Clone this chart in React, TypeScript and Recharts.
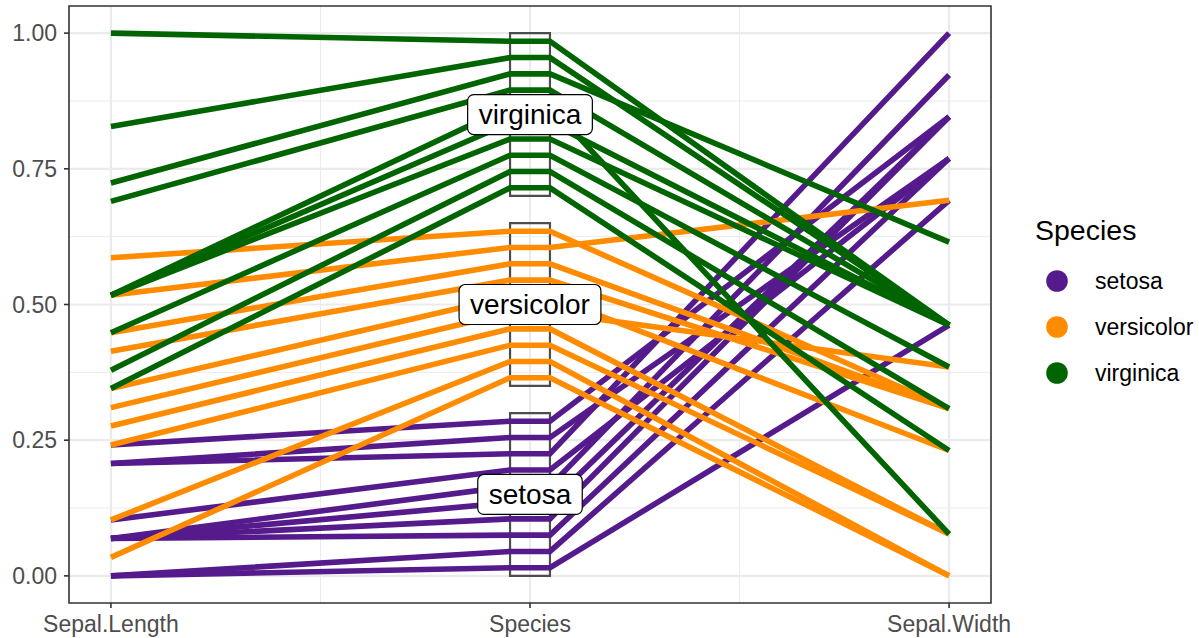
import React from "react";
import {
  LineChart,
  Line,
  XAxis,
  YAxis,
  CartesianGrid,
  ReferenceArea,
  ReferenceDot,
  Legend,
} from "recharts";

// ---------- data ----------
const axisNames = ["Sepal.Length", "Species", "Sepal.Width"];
const speciesNames = ["setosa", "versicolor", "virginica"];
const speciesColors = ["#551A8B", "#FF8C00", "#006400"];

// each species: lines listed bottom-to-top inside its Species box
const setosaSepalLength = [0, 0, 0.069, 0.069, 0.069, 0.069, 0.103, 0.207, 0.207, 0.241];
const setosaSpecies = [0.015, 0.045, 0.075, 0.105, 0.135, 0.165, 0.195, 0.225, 0.255, 0.285];
const setosaSepalWidth = [0.462, 0.692, 0.769, 0.846, 0.846, 0.923, 0.769, 1.0, 0.769, 0.846];

const versicolorSepalLength = [0.034, 0.103, 0.241, 0.276, 0.31, 0.345, 0.414, 0.448, 0.517, 0.586];
const versicolorSpecies = [0.365, 0.395, 0.425, 0.455, 0.485, 0.515, 0.545, 0.575, 0.605, 0.635];
const versicolorSepalWidth = [0, 0, 0.077, 0.077, 0.385, 0.231, 0.308, 0.308, 0.692, 0.308];

const virginicaSepalLength = [0.345, 0.379, 0.448, 0.517, 0.517, 0.517, 0.69, 0.724, 0.828, 1.0];
const virginicaSpecies = [0.715, 0.745, 0.775, 0.805, 0.835, 0.865, 0.895, 0.925, 0.955, 0.985];
const virginicaSepalWidth = [0.231, 0.308, 0.385, 0.462, 0.462, 0.077, 0.462, 0.615, 0.462, 0.462];

const speciesBoxes: [number, number][] = [
  [0, 0.3],
  [0.35, 0.65],
  [0.7, 1.0],
];
const speciesLabelY = [0.15, 0.5, 0.85];

const yTicks = [0, 0.25, 0.5, 0.75, 1];
const yMinor = [0.125, 0.375, 0.625, 0.875];
const xTicks = [0, 1, 2];
const xMinor = [0.5, 1.5];

// ---------- layout constants ----------
const W = 1199;
const H = 638;
const BOX_HALF = 20 / 420;
const FONT = "'Liberation Sans', Arial, sans-serif";

const groups = [
  { name: speciesNames[0], color: speciesColors[0], sl: setosaSepalLength, sp: setosaSpecies, sw: setosaSepalWidth },
  { name: speciesNames[1], color: speciesColors[1], sl: versicolorSepalLength, sp: versicolorSpecies, sw: versicolorSepalWidth },
  { name: speciesNames[2], color: speciesColors[2], sl: virginicaSepalLength, sp: virginicaSpecies, sw: virginicaSepalWidth },
];

const xPositions = [0, 1 - BOX_HALF, 1 + BOX_HALF, 2];
const rows: Record<string, number>[] = xPositions.map((x) => ({ x }));
const lineDefs: { key: string; color: string }[] = [];
groups.forEach((g) => {
  g.sl.forEach((v, i) => {
    const key = `${g.name}_${i}`;
    rows[0][key] = v;
    rows[1][key] = g.sp[i];
    rows[2][key] = g.sp[i];
    rows[3][key] = g.sw[i];
    lineDefs.push({ key, color: g.color });
  });
});

let measureCtx: CanvasRenderingContext2D | null = null;
function textWidth(text: string, size: number) {
  if (!measureCtx) {
    const c = document.createElement("canvas");
    measureCtx = c.getContext("2d");
  }
  if (!measureCtx) return text.length * size * 0.5;
  measureCtx.font = `${size}px 'Liberation Sans'`;
  return measureCtx.measureText(text).width;
}

const LabelShape = (props: any) => {
  const { cx, cy, text } = props;
  const fs = 28;
  const tw = textWidth(text, fs);
  const w = tw + 22;
  const h = 40;
  return (
    <g>
      <rect x={cx - w / 2} y={cy - h / 2} width={w} height={h} rx={6} ry={6} fill="#FFFFFF" stroke="#000000" strokeWidth={1.2} />
      <text x={cx} y={cy} textAnchor="middle" dominantBaseline="central" fontSize={fs} fontFamily={FONT} fill="#000000">
        {text}
      </text>
    </g>
  );
};

const LegendContent = () => (
  <div style={{ position: "relative", width: W, height: H, fontFamily: FONT }}>
    <div style={{ position: "absolute", left: 1035, top: 213, fontSize: 28.5, color: "#000", lineHeight: "34px" }}>Species</div>
    {speciesNames.map((n, i) => (
      <div key={n}>
        <svg style={{ position: "absolute", left: 1045, top: 269 + i * 46 }} width={24} height={24}>
          <circle cx={12} cy={12} r={10.8} fill={speciesColors[i]} />
        </svg>
        <div style={{ position: "absolute", left: 1095, top: 267 + i * 46, fontSize: 23, lineHeight: "28px", color: "#000" }}>{n}</div>
      </div>
    ))}
  </div>
);

export default function App() {
  return (
    <div style={{ position: "absolute", left: 0, top: 0, width: W, height: H, background: "#FFFFFF" }}>
      <LineChart width={W} height={H} data={rows} margin={{ top: 6, right: 208, bottom: 0, left: 0 }}>
        <CartesianGrid stroke="#EBEBEB" strokeWidth={1} horizontalValues={yMinor} verticalValues={xMinor} />
        <CartesianGrid stroke="#EBEBEB" strokeWidth={2.2} horizontalValues={yTicks} verticalValues={xTicks} />
        <XAxis
          type="number"
          dataKey="x"
          domain={[-0.1, 2.1]}
          ticks={xTicks}
          tickFormatter={(v: number) => axisNames[v] ?? ""}
          allowDataOverflow
          height={35}
          axisLine={false}
          tickLine={{ stroke: "#333333", strokeWidth: 1.6 }}
          tickSize={5}
          tickMargin={8}
          tick={{ fontSize: 23, fill: "#4D4D4D", fontFamily: FONT }}
          interval={0}
        />
        <YAxis
          type="number"
          domain={[-0.05, 1.05]}
          ticks={yTicks}
          tickFormatter={(v: number) => v.toFixed(2)}
          allowDataOverflow
          width={69}
          axisLine={false}
          tickLine={{ stroke: "#333333", strokeWidth: 1.6 }}
          tickSize={5}
          tickMargin={7}
          tick={{ fontSize: 23, fill: "#4D4D4D", fontFamily: FONT }}
          interval={0}
        />
        {lineDefs.map((l) => (
          <Line
            key={l.key}
            dataKey={l.key}
            stroke={l.color}
            strokeWidth={5.6}
            dot={false}
            activeDot={false}
            isAnimationActive={false}
            legendType="none"
            type="linear"
            strokeLinejoin="miter"
          />
        ))}
        {speciesBoxes.map((b, i) => (
          <ReferenceArea
            key={`box${i}`}
            x1={1 - BOX_HALF}
            x2={1 + BOX_HALF}
            y1={b[0]}
            y2={b[1]}
            fill="none"
            fillOpacity={0}
            stroke="#4D4D4D"
            strokeWidth={2.2}
          />
        ))}
        {speciesNames.map((n, i) => (
          <ReferenceDot
            key={`lab${i}`}
            x={1}
            y={speciesLabelY[i]}
            r={0}
            shape={(p: any) => <LabelShape cx={p.cx} cy={p.cy} text={n} />}
          />
        ))}
        <ReferenceArea x1={-0.1} x2={2.1} y1={-0.05} y2={1.05} fill="none" fillOpacity={0} stroke="#333333" strokeWidth={1.6} />
        <Legend
          layout="horizontal"
          verticalAlign="middle"
          align="center"
          content={() => <LegendContent />}
          wrapperStyle={{ position: "absolute", left: 0, top: 0, width: W, height: H, pointerEvents: "none" }}
        />
      </LineChart>
    </div>
  );
}
